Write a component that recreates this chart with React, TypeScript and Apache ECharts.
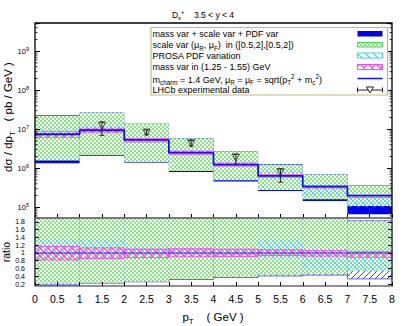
import React, { useEffect, useRef } from 'react';
import * as echarts from 'echarts';

// ---------------- data ----------------
const binLo = [0, 1, 2, 3, 4, 5, 6, 7];
const binHi = [1, 2, 3, 4, 5, 6, 7, 8];
const central = [7.45e6, 9.42e6, 5.32e6, 2.51e6, 1.24e6, 6.36e5, 3.37e5, 1.98e5];
const scaleHi = [2.23e7, 2.67e7, 1.37e7, 5.87e6, 2.73e6, 1.24e6, 7.0e5, 3.58e5];
const scaleLo = [1.57e6, 2.19e6, 1.43e6, 8.5e5, 4.92e5, 2.78e5, 1.6e5, 1.08e5];
const totalHi = [2.28e7, 2.7e7, 1.39e7, 5.95e6, 2.77e6, 1.29e6, 7.1e5, 3.62e5];
const totalLo = [1.34e6, 2.1e6, 1.38e6, 8.0e5, 4.6e5, 2.6e5, 1.45e5, 6.6e4];
const pdfHiRatio = [1.36, 1.33, 1.16, 1.12, 1.1, 1.33, 1.1, 1.03];
const pdfLoRatio = [0.9, 0.9, 0.92, 0.92, 0.92, 0.85, 0.58, 0.52];
const massHiRatio = [1.17, 1.13, 1.1, 1.11, 1.1, 1.08, 1.06, 1.03];
const massLoRatio = [0.82, 0.86, 0.88, 0.9, 0.91, 0.93, 0.92, 0.89];
const lhcbPt = [1.5, 2.5, 3.5, 4.5, 5.5];
const lhcbVal = [1.22e7, 8.2e6, 4.37e6, 1.87e6, 7.9e5];
const lhcbLo = [7.0e6, 7.2e6, 3.7e6, 1.27e6, 4.4e5];
const lhcbHi = [1.54e7, 9.6e6, 5.1e6, 2.29e6, 9.6e5];
const ratioTicks = [0.2, 0.4, 0.6, 0.8, 1, 1.2, 1.4, 1.6, 1.8];
const legendLabels = [
  'mass var + scale var + PDF var',
  'scale var (\u03bc{sub|R}, \u03bc{sub|F})\u00a0 in ([0.5,2],[0.5,2])',
  'PROSA PDF variation',
  'mass var in (1.25 - 1.55) GeV',
  'm{sub|charm} = 1.4 GeV, \u03bc{sub|R} = \u03bc{sub|F} = sqrt(p{sub|T}{sup|2} + m{sub|c}{sup|2})',
  'LHCb experimental data',
];
const titleText = 'D{sub|s}{sup|+}\u00a0\u00a0\u00a0 3.5 < y < 4';
const yTitle = 'd\u03c3 / dp{sub|T}\u00a0\u00a0 ( pb / GeV )';
const xTitle = 'p{sub|T}\u00a0\u00a0\u00a0 ( GeV )';
const ratioTitle = 'ratio';

// ---------------- layout ----------------
const W = 407, H = 326;
const FONT = '"Liberation Sans", Arial, Helvetica, sans-serif';
const GL = 35, GR = 392, TT = 23, TB = 218, RB = 286;

function tile(w: number, h: number, body: string) {
  return {
    image: 'data:image/svg+xml;charset=utf-8,' + encodeURIComponent(
      `<svg xmlns="http://www.w3.org/2000/svg" width="${w}" height="${h}">${body}</svg>`),
    repeat: 'repeat', imageWidth: w, imageHeight: h,
  };
}
const greenFill = () => tile(4, 4, '<rect width="4" height="4" fill="#ffffff"/><rect width="2" height="2" fill="#84ec7e"/><rect x="2" y="2" width="2" height="2" fill="#84ec7e"/>');
const cyanFill = () => tile(8, 8, '<path d="M-1,-1 L9,9 M-1,7 L1,9 M7,-1 L9,1" stroke="#38d8f0" stroke-width="1.2" fill="none"/>');
const magFill = () => tile(8, 8, '<path d="M-1,-1 L9,9 M-1,7 L1,9 M7,-1 L9,1 M-1,9 L9,-1 M-1,1 L1,-1 M7,9 L9,7" stroke="#ff3cff" stroke-width="1.1" fill="none"/>');
const blueHatch = () => tile(6, 6, '<path d="M-1,7 L7,-1 M-1,1 L1,-1 M5,7 L7,5" stroke="#3a3aff" stroke-width="1" fill="none"/>');

function bandRender(makeStyle: () => any) {
  return (params: any, api: any) => {
    const a = api.coord([api.value(0), api.value(3)]);
    const b = api.coord([api.value(1), api.value(2)]);
    const cs = params.coordSys;
    const shape = echarts.graphic.clipRectByRect(
      { x: a[0], y: a[1], width: b[0] - a[0], height: b[1] - a[1] },
      { x: cs.x, y: cs.y, width: cs.width, height: cs.height });
    if (!shape) return null;
    return { type: 'rect', shape, style: makeStyle() };
  };
}

function band(xi: number, lo: number[], hi: number[], makeStyle: () => any) {
  return {
    type: 'custom', xAxisIndex: xi, yAxisIndex: xi, silent: true,
    data: binLo.map((x, i) => [x, binHi[i], lo[i], hi[i]]),
    encode: { x: [0, 1], y: [2, 3] },
    renderItem: bandRender(makeStyle),
  };
}

const rich = (base: number) => ({
  sub: { fontSize: base * 0.7, fontFamily: FONT, fill: '#000', lineHeight: base * 0.75, verticalAlign: 'bottom' },
  sup: { fontSize: base * 0.7, fontFamily: FONT, fill: '#000', lineHeight: base * 0.75, verticalAlign: 'top' },
});

function txt(text: string, x: number, y: number, size: number, align = 'left', rotation = 0) {
  return {
    type: 'text', x, y, rotation, z: 110, silent: true,
    style: {
      text, fontSize: size, fontFamily: FONT, fill: '#000', align, verticalAlign: 'middle',
      lineHeight: size * 1.4, rich: rich(size),
    },
  };
}

function buildOption(): any {
  const ratio = (arr: number[]) => arr.map((v, i) => v / central[i]);
  const minorVals: number[][] = [];
  for (let e = 4; e <= 9; e++) for (let m = 2; m <= 9; m++) {
    const v = m * Math.pow(10, e);
    if (v > 5.3e4 && v < 5.3e9) minorVals.push([0, v]);
  }
  const tickStyle = { color: '#000', width: 1 };
  const logAxis = (pos: string, labels: boolean) => ({
    gridIndex: 0, type: 'log', logBase: 10, min: 5.3e4, max: 5.3e9, position: pos, z: 10,
    axisLine: { show: false }, splitLine: { show: false },
    axisTick: { inside: true, length: 5, lineStyle: tickStyle },
    axisLabel: {
      show: labels, margin: 6, fontFamily: FONT,
      formatter: (v: number) => {
        const e = Math.log10(v);
        return Math.abs(e - Math.round(e)) < 1e-6 ? `{b|10}{s|${Math.round(e)}}` : '';
      },
      rich: {
        b: { fontSize: 7.5, lineHeight: 11, fontFamily: FONT, color: '#000' },
        s: { fontSize: 5.5, lineHeight: 6, fontFamily: FONT, color: '#000', verticalAlign: 'top' },
      },
    },
  });
  const ratioAxis = (pos: string, labels: boolean) => ({
    gridIndex: 1, type: 'value', min: 0.15, max: 1.9, position: pos, z: 10,
    axisLine: { show: false }, splitLine: { show: false },
    axisTick: { inside: true, length: 4, lineStyle: tickStyle, customValues: ratioTicks },
    axisLabel: {
      show: labels, customValues: ratioTicks, fontSize: 7, lineHeight: 6, fontFamily: FONT, color: '#000',
      margin: 10, hideOverlap: false, showMinLabel: true, showMaxLabel: true,
    },
  });
  const xAxis = (gi: number, labels: boolean) => ({
    gridIndex: gi, type: 'value', min: 0, max: 8, interval: 0.5, z: 10,
    axisLine: { show: false }, splitLine: { show: false },
    axisTick: { inside: true, length: 4, lineStyle: tickStyle },
    axisLabel: { show: labels, fontSize: 10.5, fontFamily: FONT, color: '#000', margin: 7 },
  });

  const centralStep = [...binLo, 8].map((x, i) => [x, central[Math.min(i, central.length - 1)]]);

  const lx = 357.5, lw = 25;
  const rowY = [34, 45, 56, 67, 79.5, 90];
  const legend: any[] = [
    { type: 'rect', z: 105, silent: true, shape: { x: 151, y: 27.5, width: 236.5, height: 67.5 },
      style: { fill: '#fff', stroke: '#bdbd78', lineWidth: 1.2 } },
    ...legendLabels.map((t, i) => txt(t, 152.5, rowY[i], 9)),
    { type: 'rect', z: 110, shape: { x: lx, y: 31, width: lw, height: 5.5 }, style: { fill: '#0000f0' } },
    { type: 'rect', z: 110, shape: { x: lx, y: 42.5, width: lw, height: 4.5 }, style: { fill: greenFill(), stroke: '#50d850', lineWidth: 1 } },
    { type: 'rect', z: 110, shape: { x: lx, y: 53, width: lw, height: 5 }, style: { fill: cyanFill(), stroke: '#38d8f0', lineWidth: 1 } },
    { type: 'rect', z: 110, shape: { x: lx, y: 64.5, width: lw, height: 5 }, style: { fill: magFill(), stroke: '#ff3cff', lineWidth: 1 } },
    { type: 'line', z: 110, shape: { x1: lx, y1: 78.5, x2: lx + lw, y2: 78.5 }, style: { stroke: '#1010ff', lineWidth: 1.5 } },
    { type: 'line', z: 110, shape: { x1: lx, y1: 90, x2: lx + lw, y2: 90 }, style: { stroke: '#222', lineWidth: 1 } },
    { type: 'line', z: 110, shape: { x1: lx, y1: 87.5, x2: lx, y2: 92.5 }, style: { stroke: '#222', lineWidth: 1 } },
    { type: 'line', z: 110, shape: { x1: lx + lw, y1: 87.5, x2: lx + lw, y2: 92.5 }, style: { stroke: '#222', lineWidth: 1 } },
    { type: 'polygon', z: 111, shape: { points: [[lx + 9, 87], [lx + 16, 87], [lx + 12.5, 93]] }, style: { fill: '#fff', stroke: '#222', lineWidth: 1 } },
  ];

  return {
    animation: false,
    backgroundColor: '#fff',
    grid: [
      { left: GL, top: TT, width: GR - GL, height: TB - TT, outerBoundsMode: 'none' },
      { left: GL, top: TB, width: GR - GL, height: RB - TB, outerBoundsMode: 'none' },
    ],
    xAxis: [xAxis(0, false), xAxis(1, true)],
    yAxis: [logAxis('left', true), ratioAxis('left', true), logAxis('right', false), ratioAxis('right', false)],
    series: [
      band(0, totalLo, totalHi, () => ({ fill: '#0000f0' })),
      band(0, scaleLo, scaleHi, () => ({ fill: greenFill() })),
      band(0, central.map((c, i) => c * pdfLoRatio[i]), central.map((c, i) => c * pdfHiRatio[i]), () => ({ fill: cyanFill() })),
      band(0, central.map((c, i) => c * massLoRatio[i]), central.map((c, i) => c * massHiRatio[i]), () => ({ fill: magFill(), stroke: '#ff3cff', lineWidth: 0.7 })),
      {
        type: 'line', xAxisIndex: 0, yAxisIndex: 0, step: 'end', symbol: 'none', silent: true,
        data: centralStep, lineStyle: { color: '#1010ff', width: 1.8 },
      },
      {
        type: 'custom', xAxisIndex: 0, yAxisIndex: 0, silent: true,
        data: lhcbPt.map((x, i) => [x, lhcbVal[i], lhcbLo[i], lhcbHi[i]]),
        encode: { x: 0, y: [1, 2, 3] },
        renderItem: (params: any, api: any) => {
          const hi = api.coord([api.value(0), api.value(3)]);
          const lo = api.coord([api.value(0), api.value(2)]);
          const st = { stroke: '#222', lineWidth: 1 };
          return {
            type: 'group', children: [
              { type: 'line', shape: { x1: hi[0], y1: hi[1], x2: lo[0], y2: lo[1] }, style: st },
              { type: 'line', shape: { x1: hi[0] - 2.5, y1: hi[1], x2: hi[0] + 2.5, y2: hi[1] }, style: st },
              { type: 'line', shape: { x1: lo[0] - 2.5, y1: lo[1], x2: lo[0] + 2.5, y2: lo[1] }, style: st },
            ],
          };
        },
      },
      {
        type: 'scatter', xAxisIndex: 0, yAxisIndex: 0, silent: true,
        data: lhcbPt.map((x, i) => [x, lhcbVal[i]]),
        symbol: 'triangle', symbolRotate: 180, symbolSize: 7,
        itemStyle: { color: 'rgba(0,0,0,0)', borderColor: '#222', borderWidth: 1 },
      },
      {
        type: 'custom', xAxisIndex: 0, yAxisIndex: 0, silent: true, z: 20,
        data: minorVals, encode: { x: 0, y: 1 },
        renderItem: (params: any, api: any) => {
          const p = api.coord([0, api.value(1)]);
          const cs = params.coordSys;
          const st = { stroke: '#000', lineWidth: 0.8 };
          return {
            type: 'group', children: [
              { type: 'line', shape: { x1: cs.x, y1: p[1], x2: cs.x + 2.5, y2: p[1] }, style: st },
              { type: 'line', shape: { x1: cs.x + cs.width - 2.5, y1: p[1], x2: cs.x + cs.width, y2: p[1] }, style: st },
            ],
          };
        },
      },
      band(1, ratio(totalLo), ratio(totalHi), () => ({ fill: blueHatch(), stroke: '#3a3aff', lineWidth: 0.8 })),
      band(1, ratio(scaleLo), ratio(scaleHi), () => ({ fill: greenFill() })),
      band(1, pdfLoRatio, pdfHiRatio, () => ({ fill: cyanFill() })),
      band(1, massLoRatio, massHiRatio, () => ({ fill: magFill(), stroke: '#ff3cff', lineWidth: 0.9 })),
      {
        type: 'line', xAxisIndex: 1, yAxisIndex: 1, symbol: 'none', silent: true,
        data: [[0, 1], [8, 1]], lineStyle: { color: '#2020ff', width: 1 },
      },
    ],
    graphic: [
      { type: 'polyline', z: 100, silent: true, shape: { points: [[GL, TB], [GL, TT], [GR, TT], [GR, TB]] }, style: { fill: 'none', stroke: '#000', lineWidth: 1.3 } },
      { type: 'rect', z: 100, silent: true, shape: { x: GL, y: TB, width: GR - GL, height: RB - TB }, style: { fill: 'none', stroke: '#222', lineWidth: 1.2 } },
      { type: 'line', z: 101, silent: true, shape: { x1: GL, y1: TB, x2: GR, y2: TB }, style: { stroke: '#7a7a7a', lineWidth: 1.5 } },
      ...legend,
      txt(titleText, 203, 15, 8.5, 'center'),
      txt(yTitle, 8, 117, 11.5, 'center', Math.PI / 2),
      txt(ratioTitle, 6, 252, 10.5, 'center', Math.PI / 2),
      txt(xTitle, 213, 317, 11.5, 'center'),
    ],
  };
}

export default function App() {
  const ref = useRef<HTMLDivElement>(null);
  useEffect(() => {
    document.body.style.margin = '0';
    const chart = echarts.init(ref.current!, null, { renderer: 'svg', width: W, height: H });
    chart.setOption(buildOption());
    return () => chart.dispose();
  }, []);
  return <div ref={ref} style={{ width: W, height: H }} />;
}
